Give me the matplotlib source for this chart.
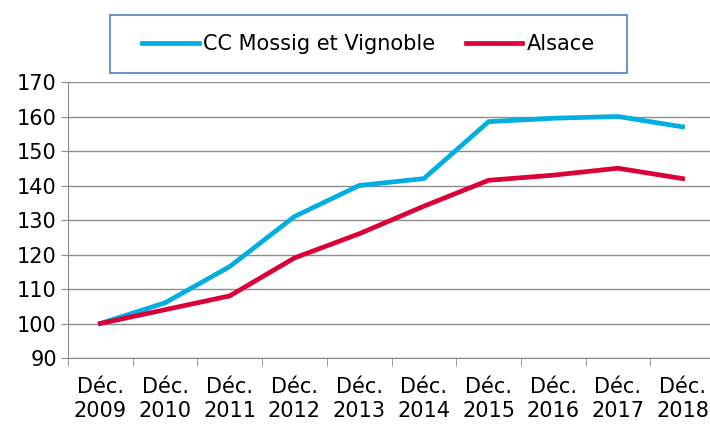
import numpy as np
import matplotlib.pyplot as plt
from matplotlib.patches import Rectangle

years = ['2009', '2010', '2011', '2012', '2013', '2014', '2015', '2016', '2017', '2018']
mossig = [100, 106, 116.5, 131, 140, 142, 158.5, 159.5, 160, 157]
alsace = [100, 104, 108, 119, 126, 134, 141.5, 143, 145, 142]
labels = ['Déc.\n' + y for y in years]

plt.rcParams['font.family'] = ['DejaVu Sans']

blue = '#00AEE0'
red = '#DC0039'
grid_col = '#8C8C8C'


def main():
    fig = plt.figure(figsize=(7.1, 4.28), dpi=100)
    ax = fig.add_axes([68 / 710, 1 - 358 / 428, 647 / 710, 276 / 428])
    x = np.arange(len(years))
    ax.plot(x, mossig, color=blue, lw=3.4, label='CC Mossig et Vignoble')
    ax.plot(x, alsace, color=red, lw=3.4, label='Alsace')

    ax.set_xlim(-0.5, len(years) - 0.5)
    ax.set_ylim(90, 170)
    ax.set_yticks(range(90, 171, 10))
    ax.yaxis.grid(True, color=grid_col, lw=1)
    ax.set_axisbelow(True)
    ax.tick_params(axis='y', labelsize=15, length=5, color=grid_col, pad=3)

    ax.set_xticks(x)
    ax.set_xticklabels(labels, fontsize=15, linespacing=1.25)
    ax.set_xticks(np.arange(-0.5, len(years)), minor=True)
    ax.tick_params(axis='x', which='major', length=0, pad=14)
    ax.tick_params(axis='x', which='minor', length=6, color=grid_col)

    for s in ['top', 'right']:
        ax.spines[s].set_visible(False)
    for s in ['left', 'bottom']:
        ax.spines[s].set_color(grid_col)

    # legend frame drawn by hand, wider than matplotlib's padding allows
    fig.patches.append(Rectangle((110 / 710, 1 - 73 / 428), 517 / 710, 58 / 428,
                                 transform=fig.transFigure, fill=False,
                                 edgecolor='#4F81BD', lw=1.2))
    fig.legend(loc='center', bbox_to_anchor=((110 + 627) / 2 / 710, 1 - 44 / 428),
               ncol=2, fontsize=15, frameon=False,
               handlelength=2.7, columnspacing=1.5, handletextpad=0.2)

    fig.savefig('out.png', dpi=100)


if __name__ == '__main__':
    main()
